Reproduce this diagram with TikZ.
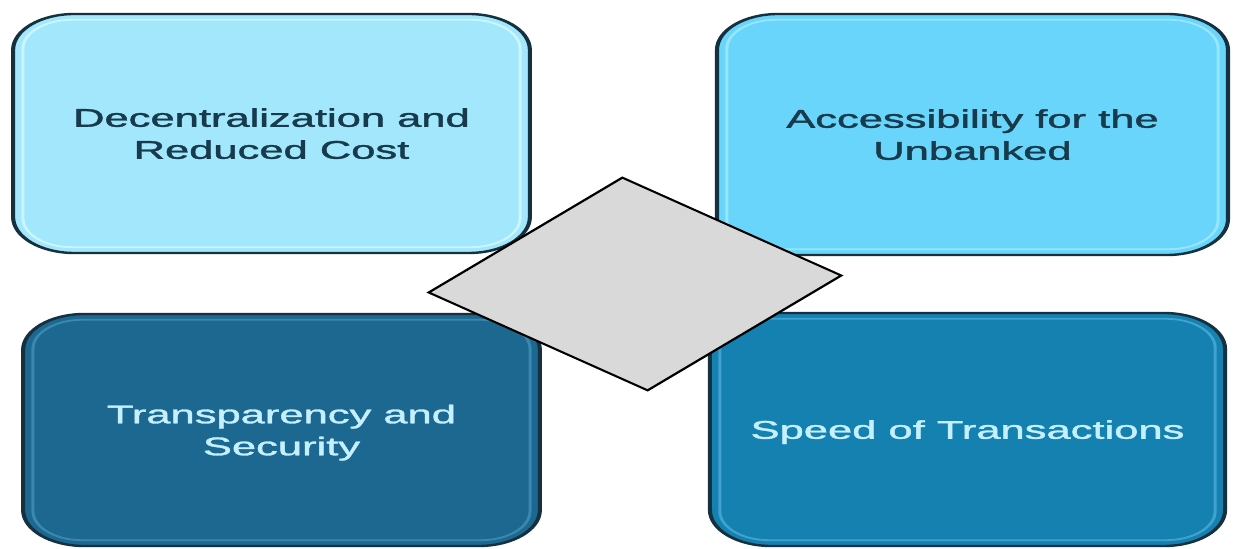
\documentclass[tikz,border=0pt]{standalone}
\usepackage{fontspec}
\setmainfont{Liberation Sans}
\newfontfamily\cardfont{Liberation Sans}[RawFeature={embolden=1.2}]
\usetikzlibrary{shapes.geometric}

\definecolor{paleblue}{HTML}{A2E7FB}
\definecolor{skyblue}{HTML}{69D5FA}
\definecolor{deepblue}{HTML}{1D6891}
\definecolor{oceanblue}{HTML}{1581B0}
\definecolor{palerim}{HTML}{CBF5FF}
\definecolor{skyrim}{HTML}{97E6FF}
\definecolor{deeprim}{HTML}{3A88B0}
\definecolor{oceanrim}{HTML}{3FA2CF}
\definecolor{rimdark}{HTML}{15303F}
\definecolor{inkdark}{HTML}{173A4C}
\definecolor{inklight}{HTML}{C5F0FF}
\definecolor{gemgray}{HTML}{D9D9D9}

\tikzset{
  card/.style={
    draw=rimdark, line width=1.2pt, rounded corners=18pt,
    align=center, inner sep=0pt, text depth=-3pt,
    font=\cardfont\fontsize{12.8}{16}\selectfont
  },
  rim/.style={line width=0.9pt, rounded corners=14.5pt},
  gem/.style={
    diamond, draw=black, fill=gemgray, line width=0.9pt,
    inner sep=0pt, minimum width=122pt, minimum height=107pt
  }
}

\begin{document}
\begin{tikzpicture}[x=0.29412pt, y=-0.5pt]
\useasboundingbox (0pt,0pt) rectangle (616.5pt,-274.5pt);
\begin{scope}[transform canvas={xscale=1.7}]

  % the four cards
  \node[card, fill=paleblue, text=inkdark, minimum width=152pt, minimum height=119.5pt]
    (decent) at (271.5,133.5) {Decentralization and\\Reduced Cost};
  \node[card, fill=skyblue, text=inkdark, minimum width=150.3pt, minimum height=120.5pt]
    (access) at (972.5,134.5) {Accessibility for the\\Unbanked};
  \node[card, fill=deepblue, text=inklight, minimum width=152pt, minimum height=116pt]
    (transp) at (281.5,430) {Transparency and\\Security};
  \node[card, fill=oceanblue, text=inklight, minimum width=151.5pt, minimum height=116.5pt]
    (speed) at (967.5,429.5) {Speed of Transactions};

  % light inner rim of each card
  \foreach \c/\col in {decent/palerim, access/skyrim, transp/deeprim, speed/oceanrim}
    \draw[rim, draw=\col] ([shift={(3.5pt,-3.5pt)}]\c.north west)
      rectangle ([shift={(-3.5pt,3.5pt)}]\c.south east);

  % centre piece
  \node[gem, rotate=4] (core) at (635,284) {};

\end{scope}
\end{tikzpicture}
\end{document}
